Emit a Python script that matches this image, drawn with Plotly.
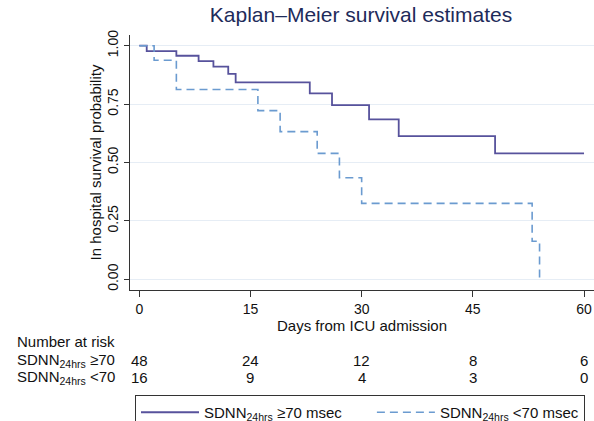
import plotly.graph_objects as go

# ---- data ----
days_hi = [0, 1, 5, 8, 10, 12, 13, 23, 26, 31, 35, 48, 60]
surv_hi = [1.0, 0.977, 0.957, 0.934, 0.910, 0.879, 0.843, 0.796, 0.746, 0.685, 0.613, 0.539, 0.539]
days_lo = [0, 2, 5, 16, 19, 24, 27, 30, 53, 54]
surv_lo = [1.0, 0.9375, 0.8125, 0.722, 0.632, 0.539, 0.435, 0.325, 0.163, 0.0]

risk_times = [0, 15, 30, 45, 60]
risk_hi = [48, 24, 12, 8, 6]
risk_lo = [16, 9, 4, 3, 0]

x_ticks = [0, 15, 30, 45, 60]
y_ticks = [0, 0.25, 0.5, 0.75, 1.0]

# trailing non-breaking spaces widen the first legend entry to match the reference spacing
name_hi = "SDNN<sub>24hrs</sub> ≥70 msec" + "&nbsp;" * 6
name_lo = "SDNN<sub>24hrs</sub> <70 msec"
row_hi = "SDNN<sub>24hrs</sub> ≥70"
row_lo = "SDNN<sub>24hrs</sub> <70"

# ---- layout geometry (pixels) ----
W, H = 594, 421
L, R, T, B = 130, 594, 35, 290
FONT = "Liberation Sans, Arial, Helvetica, sans-serif"
C_HI = "#57529c"
C_LO = "#6b9bd0"


def py(ypix):
    return (B - ypix) / (B - T)


def px(xpix):
    return (xpix - L) / (R - L)


fig = go.Figure()
fig.add_trace(go.Scatter(x=days_hi, y=surv_hi, mode="lines", line_shape="hv",
                         line=dict(color=C_HI, width=1.8), name=name_hi))
fig.add_trace(go.Scatter(x=days_lo, y=surv_lo, mode="lines", line_shape="hv",
                         line=dict(color=C_LO, width=1.6, dash="8px,5px"), name=name_lo))

ann = []
ann.append(dict(text="Number at risk", xref="paper", yref="paper", x=px(15), y=py(341.7),
                xanchor="left", yanchor="middle", showarrow=False, font=dict(size=15, color="#111")))
ann.append(dict(text=row_hi, xref="paper", yref="paper", x=px(117), y=py(360),
                xanchor="right", yanchor="middle", showarrow=False, font=dict(size=15, color="#111")))
ann.append(dict(text=row_lo, xref="paper", yref="paper", x=px(117), y=py(377.7),
                xanchor="right", yanchor="middle", showarrow=False, font=dict(size=15, color="#111")))
for t, a, b in zip(risk_times, risk_hi, risk_lo):
    ann.append(dict(text=str(a), xref="x", yref="paper", x=t, y=py(360), xanchor="center",
                    yanchor="middle", showarrow=False, font=dict(size=15, color="#111")))
    ann.append(dict(text=str(b), xref="x", yref="paper", x=t, y=py(377.7), xanchor="center",
                    yanchor="middle", showarrow=False, font=dict(size=15, color="#111")))

xscale = 7.412
x0pix = 139.3
ys = 233.6
y0pix = 279.3

fig.update_layout(
    width=W, height=H,
    margin=dict(l=L, r=W - R, t=T, b=H - B, autoexpand=False),
    paper_bgcolor="white", plot_bgcolor="white",
    font=dict(family=FONT, size=14, color="#111"),
    title=dict(text="Kaplan–Meier survival estimates", x=361 / W, xanchor="center",
               y=1 - 15 / H, yanchor="middle", yref="container",
               font=dict(size=21, color="#1e2b5a")),
    xaxis=dict(range=[(L - x0pix) / xscale, (R - x0pix) / xscale],
               tickvals=x_ticks, ticks="outside", ticklen=6, tickcolor="#333",
               showline=True, linecolor="#333", linewidth=1, showgrid=False, zeroline=False,
               tickfont=dict(size=14),
               title=dict(text="Days from ICU admission", font=dict(size=15), standoff=0)),
    yaxis=dict(range=[(y0pix - B) / ys, (y0pix - T) / ys],
               tickvals=y_ticks, tickformat=".2f", tickangle=-90, ticks="outside", ticklen=5,
               tickcolor="#333", showline=True, linecolor="#333", linewidth=1,
               showgrid=True, gridcolor="#e6edf5", gridwidth=1, zeroline=False,
               tickfont=dict(size=14),
               title=dict(text="In hospital survival probability", font=dict(size=15), standoff=0)),
    legend=dict(orientation="h", x=px(135), y=py(395), xanchor="left", yanchor="top",
                bordercolor="#333", borderwidth=1, bgcolor="white", itemwidth=58,
                font=dict(size=15, color="#111")),
    annotations=ann,
)

fig.write_html("out.html", config={"displayModeBar": False},
               post_script="document.body.style.margin='0';document.body.style.overflow='hidden';")
